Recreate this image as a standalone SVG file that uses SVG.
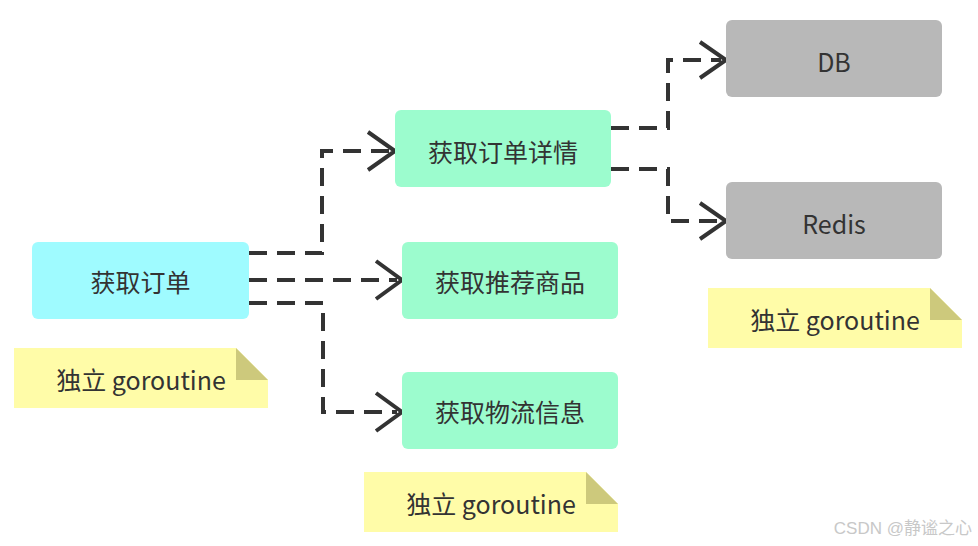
<svg xmlns="http://www.w3.org/2000/svg" width="978" height="546" viewBox="0 0 978 546">
<defs>
<style>
.t{font-family:"Noto Sans CJK SC","Noto Sans",sans-serif;font-size:25px;fill:#333;text-anchor:middle;dominant-baseline:central}
.g{fill:#9cfcce}
.c{fill:none;stroke:#333;stroke-width:4;stroke-dasharray:18 10}
.a{fill:none;stroke:#333;stroke-width:4}
.note{fill:#fffca8}
.fold{fill:#cdc97c}
</style>
</defs>
<rect width="978" height="546" fill="#fff"/>
<g id="connectors">
<polyline class="c" points="249,253 322,253 322,151 390,151"/>
<polyline class="a" points="368,132 395,151 368,170"/>
<polyline class="c" points="249,280 397,280"/>
<polyline class="a" points="376,261 402,280 376,299"/>
<polyline class="c" points="249,303 323,303 323,412 397,412"/>
<polyline class="a" points="376,393 402,412 376,431"/>
<polyline class="c" points="611,128 668,128 668,60 721,60"/>
<polyline class="a" points="700,42 726,60 700,78"/>
<polyline class="c" points="611,169 668,169 668,221 721,221"/>
<polyline class="a" points="700,203 726,221 700,239"/>
</g>
<g id="n1"><rect x="32" y="242" width="217" height="77" rx="6" fill="#9ffbff"/><text class="t" x="140.500" y="280.500">获取订单</text></g>
<g id="n2"><rect class="g" x="395" y="110" width="216" height="77" rx="6"/><text class="t" x="503" y="151">获取订单详情</text></g>
<g id="n3"><rect class="g" x="402" y="242" width="216" height="77" rx="6"/><text class="t" x="510" y="280.500">获取推荐商品</text></g>
<g id="n4"><rect class="g" x="402" y="372" width="216" height="77" rx="6"/><text class="t" x="510" y="410.500">获取物流信息</text></g>
<g id="db"><rect x="726" y="20" width="216" height="77" rx="6" fill="#b8b8b8"/><text class="t" x="834" y="60.500">DB</text></g>
<g id="redis"><rect x="726" y="182" width="216" height="77" rx="6" fill="#b8b8b8"/><text class="t" x="834" y="222.500">Redis</text></g>
<g id="note1"><polygon class="note" points="14,348 236,348 268,380 268,408 14,408"/><polygon class="fold" points="236,348 236,380 268,380"/><text class="t" x="141" y="379">独立 goroutine</text></g>
<g id="note2"><polygon class="note" points="708,288 930,288 962,320 962,348 708,348"/><polygon class="fold" points="930,288 930,320 962,320"/><text class="t" x="835" y="319">独立 goroutine</text></g>
<g id="note3"><polygon class="note" points="364,472 586,472 618,504 618,532 364,532"/><polygon class="fold" points="586,472 586,504 618,504"/><text class="t" x="491" y="503">独立 goroutine</text></g>
<text x="972" y="534" style="font-family:'Liberation Sans','Noto Sans CJK SC',sans-serif;font-size:17px;fill:#c8c8c8;text-anchor:end">CSDN @静谧之心</text>
</svg>
